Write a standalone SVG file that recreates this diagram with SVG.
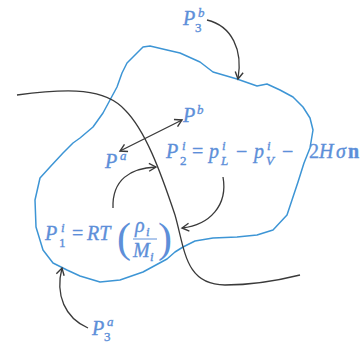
<svg xmlns="http://www.w3.org/2000/svg" width="362" height="345" viewBox="0 0 362 345">
<style>
.m{font-family:"Liberation Serif","Times New Roman",serif;font-style:italic;font-size:20px;fill:#5d8fd9;stroke:#5d8fd9;stroke-width:0.35}
.s{font-size:13px}
.u{font-style:normal}
.b{font-style:normal;font-weight:bold}
.pr{font-family:"Liberation Serif","Times New Roman",serif;font-size:42px;fill:#5d8fd9}
.ln{fill:none;stroke:#3a3a3a;stroke-width:1.3}
</style>
<defs>
<marker id="ah" markerUnits="userSpaceOnUse" markerWidth="12" markerHeight="12" viewBox="-10 -6 12 12" refX="0" refY="0" orient="auto-start-reverse">
<path d="M-7,-4 L0,0 L-7,4" fill="none" stroke="#3a3a3a" stroke-width="1.4"/>
</marker>
</defs>
<rect width="362" height="345" fill="#ffffff"/>
<g id="blob">
<path d="M143,47 L150,46 L167,50 L180,53 L200,62 L213,72 L237,79 L257,86 L267,84 L280,90 L293,97 L303,107 L310,118 L313,130 L310,148 L304,163 L298,182 L292,200 L287,215 L273,230 L257,235 L237,237 L213,238 L195,241 L183,247 L175,252 L167,259 L143,272 L120,280 L100,282 L80,276 L67,270 L53,263 L43,250 L36,227 L35,200 L40,178 L50,167 L63,153 L73,143 L80,138 L93,127 L103,113 L110,100 L117,87 L122,73 L127,63 L133,57 L138,52 Z" fill="none" stroke="#3d95d5" stroke-width="1.5" stroke-linejoin="round"/>
</g>
<g id="connectors">
<path class="ln" d="M17,95 C70,88 105,88 125,110 C145,130 160,170 175,215 C185,250 185,285 225,285 C250,285 280,280 300,275"/>
<path class="ln" d="M120,151 L182,120" marker-start="url(#ah)" marker-end="url(#ah)"/>
<path class="ln" d="M207,20 C232,26 243,50 238,79" marker-end="url(#ah)"/>
<path class="ln" d="M88,328 C65,318 55,295 62,268" marker-end="url(#ah)"/>
<path class="ln" d="M113,208 C112,180 130,168 156,167" marker-end="url(#ah)"/>
<path class="ln" d="M223,177 C228,205 210,225 182,228" marker-end="url(#ah)"/>
</g>
<g id="P3b">
<text class="m" x="183" y="25">P</text>
<text class="m s" x="198" y="17">b</text>
<text class="m s u" x="195" y="32">3</text>
</g>
<g id="Pb">
<text class="m" x="183" y="122">P</text>
<text class="m s" x="197" y="114">b</text>
</g>
<g id="Pa">
<text class="m" x="105" y="168">P</text>
<text class="m s" x="120" y="160">a</text>
</g>
<g id="P2">
<text class="m" x="166" y="158">P</text>
<text class="m s" x="182" y="150">i</text>
<text class="m s u" x="180" y="165">2</text>
<text class="m u" x="192" y="158">=</text>
<text class="m" x="209" y="158">p</text>
<text class="m s" x="222" y="150">i</text>
<text class="m s" x="221" y="165">L</text>
<text class="m u" x="236" y="158">−</text>
<text class="m" x="254" y="158">p</text>
<text class="m s" x="267" y="150">i</text>
<text class="m s" x="266" y="165">V</text>
<text class="m u" x="282" y="158">−</text>
<text class="m u" x="309" y="158">2</text>
<text class="m" x="319" y="158">H</text>
<text class="m" x="336" y="158">σ</text>
<text class="m b" x="348" y="158">n</text>
</g>
<g id="P1">
<text class="m" x="45" y="240">P</text>
<text class="m s" x="61" y="232">i</text>
<text class="m s u" x="59" y="247">1</text>
<text class="m u" x="72" y="240">=</text>
<text class="m" x="87" y="240">RT</text>
<text class="pr" x="117" y="252">(</text>
<text class="m" x="135" y="232">ρ</text>
<text class="m s" x="146" y="236">i</text>
<line x1="133" y1="239" x2="157" y2="239" stroke="#5d8fd9" stroke-width="1"/>
<text class="m" x="133" y="257">M</text>
<text class="m s" x="150" y="261">i</text>
<text class="pr" x="158" y="252">)</text>
</g>
<g id="P3a">
<text class="m" x="92" y="335">P</text>
<text class="m s" x="107" y="326">a</text>
<text class="m s u" x="104" y="341">3</text>
</g>
</svg>
